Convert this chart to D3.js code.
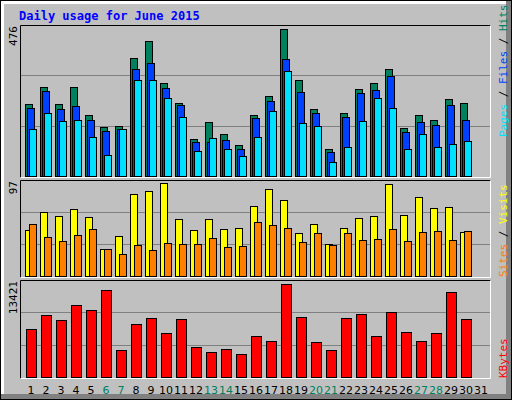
<!DOCTYPE html>
<html><head><meta charset="utf-8">
<script src="https://cdn.jsdelivr.net/npm/d3@7"></script>
<style>body{margin:0;background:#fff}svg{display:block}</style>
</head><body><div id="chart"></div>
<script>
var days = d3.range(1, 32);
var weekend = [6, 7, 13, 14, 20, 21, 27, 28];
var hits  = [227,280,227,280,192,155,158,371,425,293,230,117,170,133,98,192,252,462,302,211,86,199,274,293,337,152,192,177,243,230];
var files = [214,269,211,221,177,142,149,337,356,277,224,108,108,114,86,183,236,368,265,199,76,186,262,271,315,139,170,161,224,177];
var pages = [149,199,174,177,123,67,149,302,302,246,186,79,120,86,64,123,205,331,167,158,45,92,174,246,214,86,133,92,101,111];
var visits = [46,65,61,68,60,27,40,83,86,94,58,46,58,47,48,71,88,77,43,53,32,49,59,61,93,62,80,69,70,44];
var sites  = [53,39,35,41,47,27,22,31,26,33,32,32,38,29,30,55,52,48,34,43,31,43,36,37,47,35,44,45,36,45];
var kbytes = [6640,8618,7911,10030,9324,12008,3673,7346,8194,6075,8052,4097,3390,3814,3249,5651,4944,12856,8335,4803,3673,8194,8759,5651,9041,6216,4944,6075,11725,8052];
var maxHits = 476, maxVisits = 97, maxKB = 13421;

var svg = d3.select("#chart").append("svg").attr("width", 512).attr("height", 400);
var mono = "'DejaVu Sans Mono', monospace";

// frame
svg.append("rect").attr("width", 512).attr("height", 400).attr("fill", "#000");
svg.append("rect").attr("x", 1).attr("y", 1).attr("width", 510).attr("height", 398).attr("fill", "#808080");
svg.append("rect").attr("x", 1).attr("y", 1).attr("width", 505).attr("height", 393).attr("fill", "#fff");
svg.append("rect").attr("x", 4).attr("y", 4).attr("width", 502).attr("height", 390).attr("fill", "#c0c0c0");

svg.append("text").attr("x", 19).attr("y", 20).attr("fill", "#0000ff")
  .style("font", "bold 12px " + mono).text("Daily usage for June 2015");

var x = d3.scaleLinear().domain([1, 32]).range([25, 25 + 15 * 31]);

var panels = [
  {top: 25, bot: 177, max: maxHits, label: "476"},
  {top: 180, bot: 277, max: maxVisits, label: "97"},
  {top: 280, bot: 378, max: maxKB, label: "13421"}
];
panels.forEach(function (p) {
  p.y = d3.scaleLinear().domain([0, p.max]).range([p.bot - 1, p.top]);
  svg.append("rect").attr("x", 20).attr("y", p.top).attr("width", 471).attr("height", p.bot - p.top).attr("fill", "#c0c0c0");
  [1 / 3, 2 / 3].forEach(function (f) {
    var yy = Math.round(p.y(p.max * f)) + 0.5;
    svg.append("line").attr("x1", 21).attr("x2", 490).attr("y1", yy).attr("y2", yy).attr("stroke", "#808080");
  });
  svg.append("path").attr("d", "M20.5," + (p.bot + 0.5) + "V" + (p.top + 0.5) + "H490.5").attr("fill", "none").attr("stroke", "#000");
  svg.append("path").attr("d", "M20.5," + (p.bot + 0.5) + "H490.5V" + (p.top + 0.5)).attr("fill", "none").attr("stroke", "#fff");
  svg.append("text").attr("transform", "translate(17," + (p.top + 1) + ") rotate(-90)")
    .attr("text-anchor", "end").style("font", "11px " + mono).text(p.label);
});

function bars(data, panel, off, w, color) {
  svg.append("g").selectAll("rect").data(data).enter().append("rect")
    .attr("x", function (d, i) { return x(i + 1) + off + 0.5; })
    .attr("y", function (d) { return Math.round(panel.y(d)) + 0.5; })
    .attr("width", w)
    .attr("height", function (d) { return panel.bot - 1 - Math.round(panel.y(d)); })
    .attr("fill", color).attr("stroke", "#000");
}
bars(hits, panels[0], 0, 7, "#00805c");
bars(files, panels[0], 2, 7, "#0040ff");
bars(pages, panels[0], 4, 7, "#00e0ff");
bars(visits, panels[1], 0, 7, "#ffff00");
bars(sites, panels[1], 4, 7, "#ff8000");
bars(kbytes, panels[2], 1, 10, "#ff0000");

// day labels
svg.append("g").selectAll("text").data(days).enter().append("text")
  .attr("x", function (d) { return x(d) + 6; }).attr("y", 394)
  .attr("text-anchor", "middle").style("font", "11px 'DejaVu Sans', sans-serif")
  .attr("fill", function (d) { return weekend.indexOf(d) >= 0 ? "#00805c" : "#000"; })
  .text(function (d) { return d; });

// right-side legends
function legend(parts, yEnd) {
  var t = svg.append("text").attr("transform", "translate(507," + yEnd + ") rotate(-90)")
    .style("font", "11px " + mono);
  parts.forEach(function (p) {
    t.append("tspan").attr("fill", p[1]).text(p[0]);
  });
}
legend([["Pages", "#00e0ff"], [" / ", "#000"], ["Files", "#0040ff"], [" / ", "#000"], ["Hits", "#00805c"]], 137);
legend([["Sites", "#ff8000"], [" / ", "#000"], ["Visits", "#ffff00"]], 277);
legend([["KBytes", "#ff0000"]], 378);
</script></body></html>
